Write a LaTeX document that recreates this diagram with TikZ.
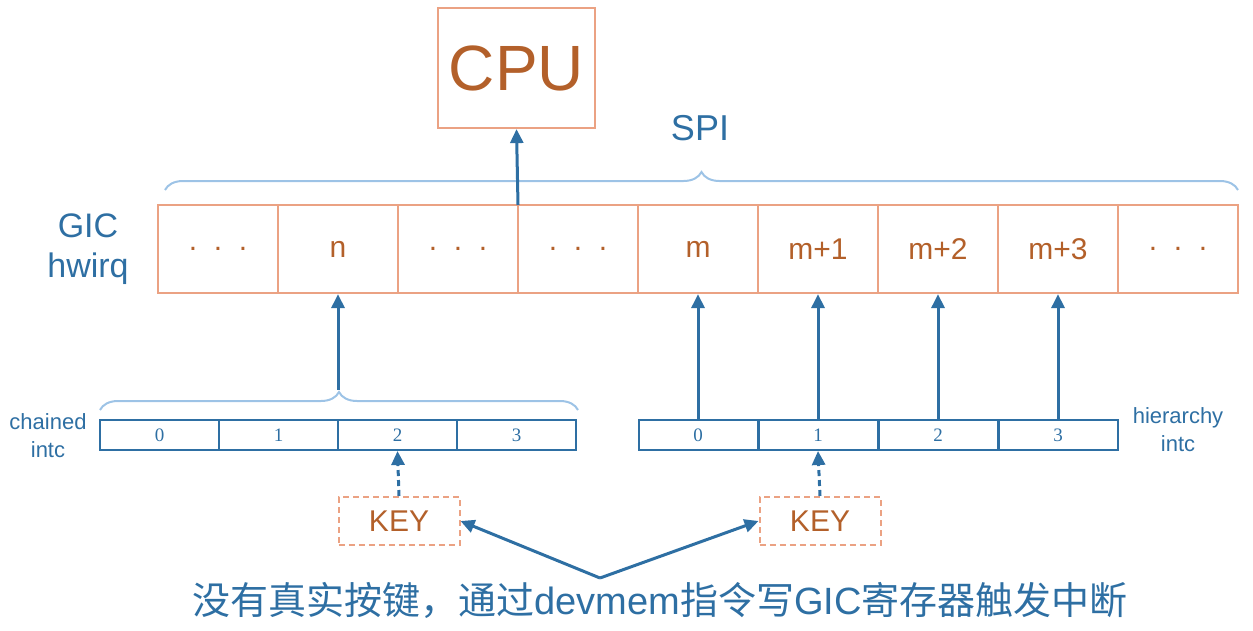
\documentclass[tikz,border=0pt]{standalone}
\usepackage{fontspec}
\setmainfont{Liberation Sans}
\newfontfamily\cjk{Noto Sans CJK SC}
\newfontfamily\serifnum{Liberation Serif}
\usetikzlibrary{decorations.pathreplacing,arrows.meta}
\definecolor{blu}{HTML}{2E6FA3}
\definecolor{lblu}{HTML}{9DC3E6}
\definecolor{org}{HTML}{EBA283}
\definecolor{brn}{HTML}{B3602A}
\tikzset{
 cell/.style={draw=org,line width=2.2pt,minimum width=120pt,minimum height=88pt,text=brn,font=\fontsize{30}{30}\selectfont},
 sc/.style={draw=blu,line width=2pt,minimum width=119pt,minimum height=30pt,text=blu,font=\serifnum\fontsize{19}{19}\selectfont},
 key/.style={draw=org,dash pattern=on 6pt off 4pt,line width=2pt,minimum width=121pt,minimum height=48pt,text=brn,font=\fontsize{30}{30}\selectfont},
 arr/.style={draw=blu,line width=3pt,-{Triangle[length=14pt,width=13pt]}},
 brc/.style={draw=lblu,line width=2pt,decorate,decoration={brace,amplitude=18pt,aspect=0.5}},
 lbl/.style={text=blu,align=center}
}
\begin{document}
\begin{tikzpicture}[x=1pt,y=-1pt]
\useasboundingbox (0,0) rectangle (1253,630);
\node[draw=org,line width=2.2pt,minimum width=157pt,minimum height=120pt,text=brn,font=\fontsize{64}{64}\selectfont] (cpu) at (516.5,68) {CPU};
\node[lbl,font=\fontsize{36}{36}\selectfont] (spi) at (700,128) {SPI};
\draw[brc] (165,190) -- (1238,190);
\node[lbl,font=\fontsize{34}{40}\selectfont] (gic) at (88,249) {GIC\\hwirq};
\foreach \i/\t in {0/{.\ \ .\ \ .},1/n,2/{.\ \ .\ \ .},3/{.\ \ .\ \ .},4/m,5/m+1,6/m+2,7/m+3,8/{.\ \ .\ \ .}}
  \node[cell] (g\i) at (218+120*\i,249) {\t};
\coordinate (g23) at (518,205);
\draw[arr] (g23) -- (cpu.south);
\foreach \i in {0,...,3} \node[sc] (c\i) at (159.5+119*\i,435) {\i};
\foreach \i in {0,...,3} \node[sc] (h\i) at (698+120*\i,435) {\i};
\draw[brc] (100,410) -- (578,410);
\coordinate (cb) at (338,390);
\draw[arr] (cb) -- (g1.south);
\foreach \i/\j in {0/4,1/5,2/6,3/7} \draw[arr] (h\i.north) -- (g\j.south);
\node[lbl,font=\fontsize{22}{28}\selectfont] (ch) at (48,436) {chained\\intc};
\node[lbl,font=\fontsize{22}{28}\selectfont] (hi) at (1178,430) {hierarchy\\intc};
\node[key] (k1) at (399,521) {KEY};
\node[key] (k2) at (820,521) {KEY};
\draw[arr,dash pattern=on 6pt off 4pt] (k1.north) -- (c2.south);
\draw[arr,dash pattern=on 6pt off 4pt] (k2.north) -- (h1.south);
\node[lbl,font=\fontsize{38}{38}\selectfont] (txt) at (660,600) {{\cjk 没有真实按键，通过}devmem{\cjk 指令写}GIC{\cjk 寄存器触发中断}};
\coordinate (src) at (600,578);
\draw[arr] (src) -- (k1.east);
\draw[arr] (src) -- (k2.west);
\end{tikzpicture}
\end{document}
